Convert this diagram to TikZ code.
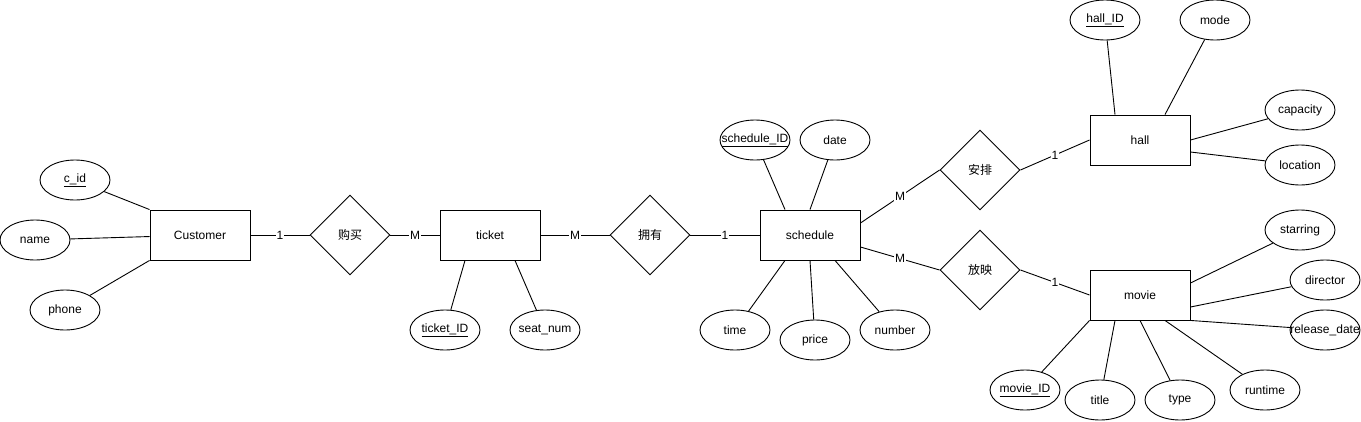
\documentclass[tikz,border=0pt]{standalone}
\usepackage{fontspec}
\setmainfont{Liberation Sans}
\newfontfamily\cjk{Noto Sans CJK SC}
\usetikzlibrary{shapes.geometric}

\begin{document}
\begin{tikzpicture}[
    x=1pt, y=-1pt,
    line width=0.9pt,
    every node/.style={font=\fontsize{12}{14}\selectfont},
    entity/.style={rectangle, draw, line width=0.9pt, minimum width=100pt, minimum height=50pt, inner sep=0pt},
    relation/.style={diamond, draw, line width=0.9pt, minimum width=80pt, minimum height=80pt, inner sep=0pt},
    attr/.style={ellipse, draw, line width=0.9pt, minimum width=70pt, minimum height=40pt, inner sep=0pt,
        execute at begin node={\hbox to 0pt\bgroup\hss}, execute at end node={\hss\egroup}},
    card/.style={fill=white, inner sep=1pt}
]
    \useasboundingbox (0,0) rectangle (1361,421);

    % Entities
    \node[entity] (customer) at (200,235) {Customer};
    \node[entity] (ticket) at (490,235) {ticket};
    \node[entity] (schedule) at (810,235) {schedule};
    \node[entity] (hall) at (1140,140) {hall};
    \node[entity] (movie) at (1140,295) {movie};

    % Relationships
    \node[relation] (buy) at (350,235) {\cjk 购买};
    \node[relation] (own) at (650,235) {\cjk 拥有};
    \node[relation] (arrange) at (980,170) {\cjk 安排};
    \node[relation] (show) at (980,270) {\cjk 放映};

    % Attributes
    \node[attr] (cid) at (75,180) {\underline{c\_id}};
    \node[attr] (name) at (35,240) {name};
    \node[attr] (phone) at (65,310) {phone};
    \node[attr] (ticketid) at (445,330) {\underline{ticket\_ID}};
    \node[attr] (seatnum) at (545,330) {seat\_num};
    \node[attr] (scheduleid) at (755,140) {\underline{schedule\_ID}};
    \node[attr] (date) at (835,140) {date};
    \node[attr] (time) at (735,330) {time};
    \node[attr] (price) at (815,340) {price};
    \node[attr] (number) at (895,330) {number};
    \node[attr] (hallid) at (1105,20) {\underline{hall\_ID}};
    \node[attr] (mode) at (1215,20) {mode};
    \node[attr] (capacity) at (1300,110) {capacity};
    \node[attr] (location) at (1300,165) {location};
    \node[attr] (starring) at (1300,230) {starring};
    \node[attr] (director) at (1325,280) {director};
    \node[attr] (reldate) at (1325,330) {release\_date};
    \node[attr] (movieid) at (1025,390) {\underline{movie\_ID}};
    \node[attr] (title) at (1100,400) {title};
    \node[attr] (type) at (1180,400) {type};
    \node[attr] (runtime) at (1265,390) {runtime};

    % Attribute links
    \draw (cid) -- (customer.north west);
    \draw (name) -- (customer);
    \draw (phone) -- (customer.south west);
    \draw (ticketid) -- ([xshift=-25pt]ticket.south);
    \draw (seatnum) -- ([xshift=25pt]ticket.south);
    \draw (scheduleid) -- ([xshift=-25pt]schedule.north);
    \draw (date) -- (schedule.north);
    \draw (time) -- ([xshift=-25pt]schedule.south);
    \draw (price) -- (schedule.south);
    \draw (number) -- ([xshift=25pt]schedule.south);
    \draw (hallid) -- ([xshift=-25pt]hall.north);
    \draw (mode) -- ([xshift=25pt]hall.north);
    \draw (capacity) -- (hall.east);
    \draw (location) -- ([yshift=-12pt]hall.east);
    \draw (starring) -- ([yshift=12pt]movie.east);
    \draw (director) -- ([yshift=-12pt]movie.east);
    \draw (reldate) -- (movie.south east);
    \draw (movieid) -- (movie.south west);
    \draw (title) -- ([xshift=-25pt]movie.south);
    \draw (type) -- (movie.south);
    \draw (runtime) -- ([xshift=25pt]movie.south);

    % Relationship links
    \draw (customer) -- node[card] {1} (buy);
    \draw (buy) -- node[card] {M} (ticket);
    \draw (ticket) -- node[card] {M} (own);
    \draw (own) -- node[card] {1} (schedule);
    \draw ([yshift=12pt]schedule.east) -- node[card] {M} (arrange.west);
    \draw (arrange.east) -- node[card] {1} (hall.west);
    \draw ([yshift=-12pt]schedule.east) -- node[card] {M} (show.west);
    \draw (show.east) -- node[card] {1} (movie.west);
\end{tikzpicture}
\end{document}
